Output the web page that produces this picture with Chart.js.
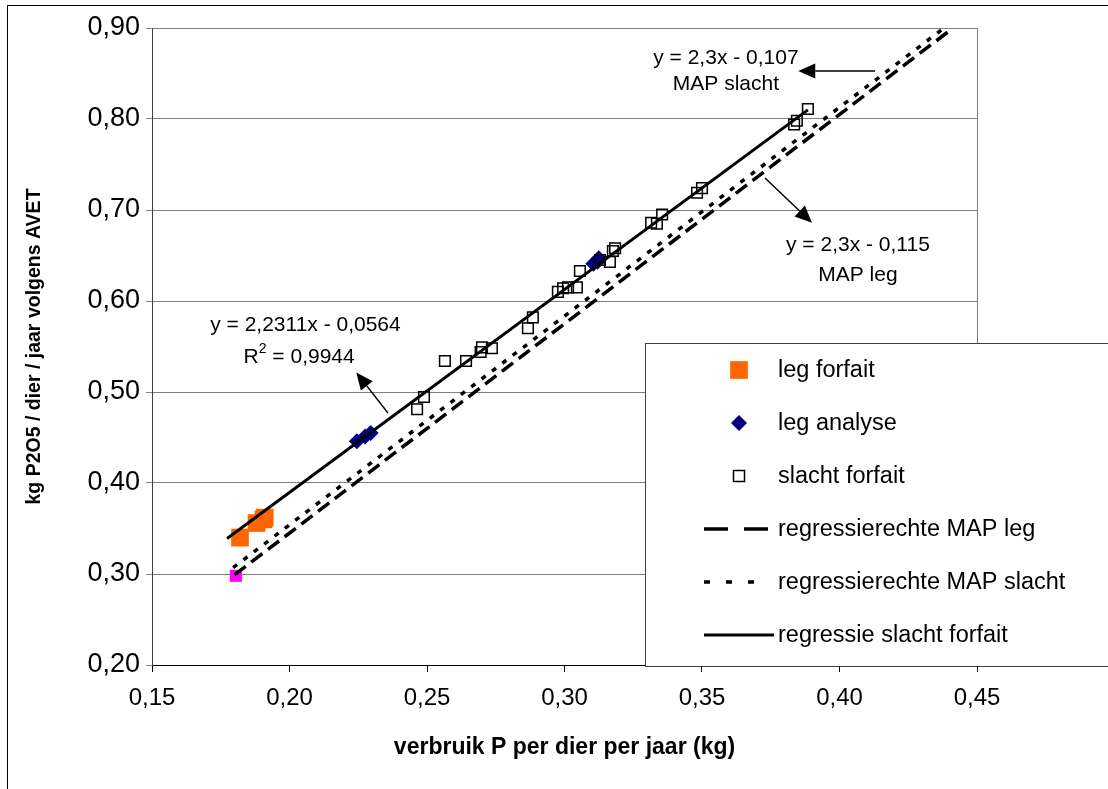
<!DOCTYPE html>
<html>
<head>
<meta charset="utf-8">
<script src="https://cdn.jsdelivr.net/npm/chart.js@4.4.1/dist/chart.umd.min.js"></script>
<style>
  html, body { margin: 0; padding: 0; background: #fff; }
  canvas { display: block; }
</style>
</head>
<body>
<canvas id="p2o5Chart" width="1108" height="789"></canvas>
<script>
const legForfaitX = [0.182, 0.188, 0.1905, 0.191];
const legForfaitY = [0.340, 0.356, 0.360, 0.362];

const legAnalyseX = [0.2245, 0.2275, 0.2295, 0.3105, 0.312, 0.3125];
const legAnalyseY = [0.446, 0.451, 0.455, 0.641, 0.643, 0.647];

const slachtForfaitX = [0.2464, 0.2489, 0.2565, 0.2642, 0.2695, 0.2700, 0.2736, 0.2867, 0.2885,
  0.2976, 0.2995, 0.3013, 0.3045, 0.3056, 0.3129, 0.3165, 0.3176, 0.3184, 0.3315, 0.3336,
  0.3355, 0.3482, 0.3500, 0.3835, 0.3845, 0.3885];
const slachtForfaitY = [0.481, 0.4945, 0.534, 0.534, 0.544, 0.549, 0.548, 0.570, 0.582,
  0.610, 0.614, 0.615, 0.615, 0.633, 0.645, 0.643, 0.655, 0.658, 0.686, 0.685,
  0.695, 0.719, 0.724, 0.794, 0.798, 0.811];

const extraX = [0.1805];
const extraY = [0.298];

// regression lines (end points)
const mapLegX = [0.180, 0.440];
const mapLegY = [0.299, 0.897];
const mapSlachtX = [0.1795, 0.438];
const mapSlachtY = [0.307, 0.900];
const fitSlachtX = [0.1773, 0.3885];
const fitSlachtY = [0.339, 0.810];

const xTicks = [0.15, 0.20, 0.25, 0.30, 0.35, 0.40, 0.45];
const yTicks = [0.20, 0.30, 0.40, 0.50, 0.60, 0.70, 0.80, 0.90];

function pts(xs, ys) {
  return xs.map((x, i) => ({ x: x, y: ys[i] }));
}
function comma(v) {
  return v.toFixed(2).replace(".", ",");
}

const FONT = "'Liberation Sans', Arial, sans-serif";

const datasets = [
  {
    label: "leg forfait", data: pts(legForfaitX, legForfaitY), showLine: false,
    pointStyle: "rect", pointRadius: 12.5, backgroundColor: "#ff6600", borderColor: "#ff6600",
    borderWidth: 0, order: 2
  },
  {
    label: "leg analyse", data: pts(legAnalyseX, legAnalyseY), showLine: false,
    pointStyle: "rectRot", pointRadius: 8, backgroundColor: "#000080", borderColor: "#000080",
    borderWidth: 0, order: 2
  },
  {
    label: "slacht forfait", data: pts(slachtForfaitX, slachtForfaitY), showLine: false,
    pointStyle: "rect", pointRadius: 7.5, backgroundColor: "rgba(0,0,0,0)", borderColor: "#000",
    borderWidth: 1.5, order: 1
  },
  {
    label: "regressierechte MAP leg", data: pts(mapLegX, mapLegY), showLine: true,
    borderColor: "#000", borderWidth: 3.5, borderDash: [14, 7], legendDash: [24, 16],
    pointRadius: 0, order: 0
  },
  {
    label: "regressierechte MAP slacht", data: pts(mapSlachtX, mapSlachtY), showLine: true,
    borderColor: "#000", borderWidth: 3.5, borderDash: [5, 8], legendDash: [6, 16],
    pointRadius: 0, order: 0
  },
  {
    label: "regressie slacht forfait", data: pts(fitSlachtX, fitSlachtY), showLine: true,
    borderColor: "#000", borderWidth: 3, pointRadius: 0, order: 0
  },
  {
    label: "", data: pts(extraX, extraY), showLine: false, hideInLegend: true,
    pointStyle: "rect", pointRadius: 8.5, backgroundColor: "#ff00ff", borderColor: "#ff00ff",
    borderWidth: 0, order: 3
  }
];

// text notes with arrows, positions in data units
const notes = [
  { lines: ["y = 2,3x - 0,107", "MAP slacht"], x: [0.3587, 0.3587], y: [0.867, 0.8385],
    arrow: [0.4129, 0.8527, 0.3850, 0.8527] },
  { lines: ["y = 2,3x - 0,115", "MAP leg"], x: [0.4067, 0.4067], y: [0.6615, 0.6286],
    arrow: [0.3729, 0.7352, 0.3900, 0.6860] },
  { lines: ["y = 2,2311x - 0,0564", "R2 = 0,9944"], x: [0.2058, 0.2035], y: [0.5736, 0.5385],
    arrow: [0.2358, 0.4769, 0.2243, 0.5215] }
];

const bgPlugin = {
  id: "bg",
  beforeDraw(chart) {
    const ctx = chart.ctx;
    ctx.save();
    ctx.fillStyle = "#fff";
    ctx.fillRect(0, 0, chart.width, chart.height);
    // outer chart frame (cropped on right and bottom)
    ctx.strokeStyle = "#000";
    ctx.lineWidth = 1;
    ctx.strokeRect(7.5, 5.5, chart.width + 20, chart.height + 20);
    ctx.restore();
  },
  beforeDatasetsDraw(chart) {
    const a = chart.chartArea;
    const ctx = chart.ctx;
    ctx.save();
    ctx.strokeStyle = "#808080";
    ctx.lineWidth = 1;
    ctx.beginPath();
    ctx.moveTo(Math.round(a.right) + 0.5, a.top);
    ctx.lineTo(Math.round(a.right) + 0.5, a.bottom);
    ctx.stroke();
    ctx.restore();
  }
};

function arrow(ctx, x1, y1, x2, y2) {
  const ang = Math.atan2(y2 - y1, x2 - x1);
  const len = 17, half = 7.5;
  const bx = x2 - Math.cos(ang) * len, by = y2 - Math.sin(ang) * len;
  ctx.beginPath();
  ctx.moveTo(x1, y1);
  ctx.lineTo(bx, by);
  ctx.stroke();
  ctx.beginPath();
  ctx.moveTo(x2, y2);
  ctx.lineTo(bx + Math.sin(ang) * half, by - Math.cos(ang) * half);
  ctx.lineTo(bx - Math.sin(ang) * half, by + Math.cos(ang) * half);
  ctx.closePath();
  ctx.fill();
}

const notesPlugin = {
  id: "notes",
  afterDatasetsDraw(chart) {
    const ctx = chart.ctx;
    const xs = chart.scales.x, ys = chart.scales.y;
    ctx.save();
    ctx.fillStyle = "#000";
    ctx.strokeStyle = "#000";
    ctx.lineWidth = 1.5;
    ctx.font = "21px " + FONT;
    ctx.textBaseline = "middle";
    notes.forEach(n => {
      n.lines.forEach((t, i) => {
        const cx = xs.getPixelForValue(n.x[i]);
        const cy = ys.getPixelForValue(n.y[i]);
        if (t.startsWith("R2")) {
          const rest = t.slice(2);
          ctx.font = "21px " + FONT;
          const wR = ctx.measureText("R").width;
          const wRest = ctx.measureText(rest).width;
          ctx.font = "14px " + FONT;
          const w2 = ctx.measureText("2").width;
          const x0 = cx - (wR + w2 + wRest) / 2;
          ctx.textAlign = "left";
          ctx.font = "21px " + FONT;
          ctx.fillText("R", x0, cy);
          ctx.font = "14px " + FONT;
          ctx.fillText("2", x0 + wR, cy - 8);
          ctx.font = "21px " + FONT;
          ctx.fillText(rest, x0 + wR + w2, cy);
        } else {
          ctx.textAlign = "center";
          ctx.fillText(t, cx, cy);
        }
      });
      const a = n.arrow;
      arrow(ctx, xs.getPixelForValue(a[0]), ys.getPixelForValue(a[1]),
        xs.getPixelForValue(a[2]), ys.getPixelForValue(a[3]));
    });
    ctx.restore();
  }
};

const legendPlugin = {
  id: "boxLegend",
  afterDraw(chart) {
    const ctx = chart.ctx;
    const left = 645.5, top = 343.5, rowH = 53, firstRow = 370;
    ctx.save();
    ctx.fillStyle = "#fff";
    ctx.fillRect(left, top, 600, 323);
    ctx.strokeStyle = "#404040";
    ctx.lineWidth = 1;
    ctx.strokeRect(left, top, 600, 323);
    ctx.font = "23.5px " + FONT;
    ctx.textBaseline = "middle";
    ctx.textAlign = "left";
    const items = chart.data.datasets.filter(d => !d.hideInLegend);
    items.forEach((d, i) => {
      const y = firstRow + i * rowH;
      const mx = 739;
      if (d.showLine) {
        ctx.strokeStyle = d.borderColor;
        ctx.lineWidth = d.borderWidth;
        ctx.setLineDash(d.legendDash || []);
        ctx.beginPath();
        ctx.moveTo(704, y);
        ctx.lineTo(d.legendDash ? 770 : 774, y);
        ctx.stroke();
        ctx.setLineDash([]);
      } else if (d.pointStyle === "rect") {
        const s = d.pointRadius * Math.SQRT1_2;
        if (d.borderWidth > 0) {
          ctx.strokeStyle = d.borderColor;
          ctx.lineWidth = d.borderWidth;
          ctx.strokeRect(mx - 5.5, y - 5.5, 11, 11);
        } else {
          ctx.fillStyle = d.backgroundColor;
          ctx.fillRect(mx - s, y - s, 2 * s, 2 * s);
        }
      } else {
        const r = d.pointRadius;
        ctx.fillStyle = d.backgroundColor;
        ctx.beginPath();
        ctx.moveTo(mx, y - r);
        ctx.lineTo(mx + r, y);
        ctx.lineTo(mx, y + r);
        ctx.lineTo(mx - r, y);
        ctx.closePath();
        ctx.fill();
      }
      ctx.fillStyle = "#000";
      ctx.fillText(d.label, 778, y + 1);
    });
    ctx.restore();
  }
};

new Chart(document.getElementById("p2o5Chart").getContext("2d"), {
  type: "scatter",
  data: { datasets: datasets },
  options: {
    responsive: false,
    animation: false,
    layout: { padding: { top: 28, right: 131, left: 0, bottom: 0 } },
    plugins: { legend: { display: false }, tooltip: { enabled: false } },
    scales: {
      x: {
        type: "linear", min: 0.15, max: 0.45,
        afterBuildTicks: s => { s.ticks = xTicks.map(v => ({ value: v })); },
        ticks: { callback: v => comma(v), color: "#000", font: { family: FONT, size: 24 }, padding: 12, maxRotation: 0 },
        grid: { drawOnChartArea: false, tickLength: 7, color: "#000" },
        border: { color: "#000" },
        title: { display: true, text: "verbruik P per dier per jaar (kg)", color: "#000",
          font: { family: FONT, size: 23, weight: "bold" }, padding: { top: 0, bottom: 28 } },
        afterFit: s => { s.height = 124; }
      },
      y: {
        type: "linear", min: 0.2, max: 0.9,
        afterBuildTicks: s => { s.ticks = yTicks.map(v => ({ value: v })); },
        ticks: { callback: v => comma(v), color: "#000", font: { family: FONT, size: 27 }, padding: 6 },
        grid: { color: "#808080", tickLength: 6 },
        border: { color: "#404040" },
        title: { display: true, text: "kg P2O5 / dier / jaar volgens AVET", color: "#000",
          font: { family: FONT, size: 19.5, weight: "bold" }, padding: { top: 23, bottom: 0 } },
        afterFit: s => { s.width = 152; }
      }
    }
  },
  plugins: [bgPlugin, notesPlugin, legendPlugin]
});
</script>
</body>
</html>
